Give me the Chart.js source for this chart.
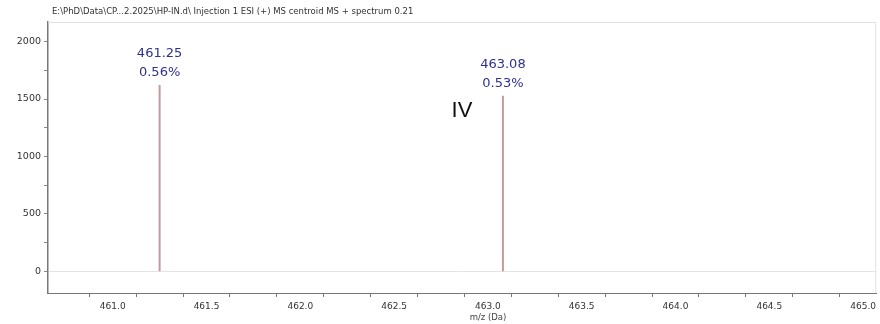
<!DOCTYPE html>
<html>
<head>
<meta charset="utf-8">
<script src="https://cdn.jsdelivr.net/npm/chart.js@4"></script>
<style>
  html, body { margin: 0; padding: 0; background: #fff; }
  #wrap { width: 880px; height: 324px; }
</style>
</head>
<body>
<div id="wrap"><canvas id="spectrum" width="880" height="324"></canvas></div>
<script>
// spectrum data
const peakMz = [461.25, 463.08];
const peakIntensity = [1620, 1525];
const peakPercent = ["0.56%", "0.53%"];
const xTickStep = 0.25;
const yTickStep = 250;
const titleText = "E:\\PhD\\Data\\CP...2.2025\\HP-IN.d\\ Injection 1 ESI (+) MS centroid MS + spectrum 0.21";
const xTitle = "m/z (Da)";
const compoundLabel = "IV";

const FONT = "'DejaVu Sans', 'Liberation Sans', sans-serif";

// labels, title and frame drawn on top of the chart
const spectrumText = {
  id: "spectrumText",
  afterDraw(chart) {
    const ctx = chart.ctx;
    const xs = chart.scales.x;
    const ys = chart.scales.y;
    const area = chart.chartArea;
    ctx.save();
    // light frame on top and right
    ctx.strokeStyle = "#e2e2e2";
    ctx.lineWidth = 1;
    ctx.beginPath();
    ctx.moveTo(area.left, area.top + 0.5);
    ctx.lineTo(area.right - 0.5, area.top + 0.5);
    ctx.lineTo(area.right - 0.5, area.bottom);
    ctx.stroke();

    // title
    ctx.fillStyle = "#333";
    ctx.font = "8.5px " + FONT;
    ctx.textAlign = "left";
    ctx.textBaseline = "middle";
    ctx.fillText(titleText, 52, 12);

    // peak labels
    ctx.fillStyle = "#2e3192";
    ctx.font = "13px " + FONT;
    ctx.textAlign = "center";
    ctx.textBaseline = "middle";
    peakMz.forEach((mz, i) => {
      const px = xs.getPixelForValue(mz);
      const py = ys.getPixelForValue(peakIntensity[i]);
      ctx.fillText(mz.toFixed(2), px, py - 32);
      ctx.fillText(peakPercent[i], px, py - 13);
    });

    // compound label
    ctx.fillStyle = "#111";
    ctx.font = "22px 'Liberation Sans', sans-serif";
    ctx.fillText(compoundLabel, 462, 111);

    // x axis title
    ctx.fillStyle = "#444";
    ctx.font = "8.5px " + FONT;
    ctx.fillText(xTitle, 488, 318);
    ctx.restore();
  },
};

const ctx = document.getElementById("spectrum").getContext("2d");
new Chart(ctx, {
  type: "bar",
  data: {
    datasets: [
      {
        data: peakMz.map((mz, i) => ({ x: mz, y: peakIntensity[i] })),
        backgroundColor: "#bf9a9a",
        borderWidth: 0,
        barThickness: 1.3,
      },
    ],
  },
  options: {
    responsive: false,
    animation: false,
    layout: { padding: { top: 22, right: 2, left: 0, bottom: 0 } },
    plugins: { legend: { display: false }, tooltip: { enabled: false } },
    scales: {
      x: {
        type: "linear",
        offset: false,
        min: 460.655,
        max: 465.07,
        afterFit: (s) => { s.height = 31; },
        border: { display: true, color: "#777", width: 1 },
        grid: { display: true, drawOnChartArea: false, drawTicks: true, tickLength: 4, color: "#777" },
        ticks: {
          stepSize: xTickStep,
          includeBounds: false,
          autoSkip: false,
          maxRotation: 0,
          color: "#333",
          font: { family: FONT, size: 9 },
          padding: 4,
          callback: (v) => (Math.abs(v * 2 - Math.round(v * 2)) < 1e-6 ? v.toFixed(1) : ""),
        },
      },
      y: {
        min: -188,
        max: 2170,
        afterFit: (s) => { s.width = 48; },
        border: { display: true, color: "#777", width: 1.5 },
        grid: {
          display: true,
          drawOnChartArea: true,
          drawTicks: true,
          tickLength: 4,
          color: (c) => (c.tick && c.tick.value === 0 ? "#e4e4e4" : "rgba(0,0,0,0)"),
          tickColor: "#888",
        },
        ticks: {
          stepSize: yTickStep,
          includeBounds: false,
          autoSkip: false,
          color: "#333",
          font: { family: FONT, size: 9.5 },
          padding: 3,
          callback: (v) => (v % 500 === 0 ? v : ""),
        },
      },
    },
  },
  plugins: [spectrumText],
});
</script>
</body>
</html>
